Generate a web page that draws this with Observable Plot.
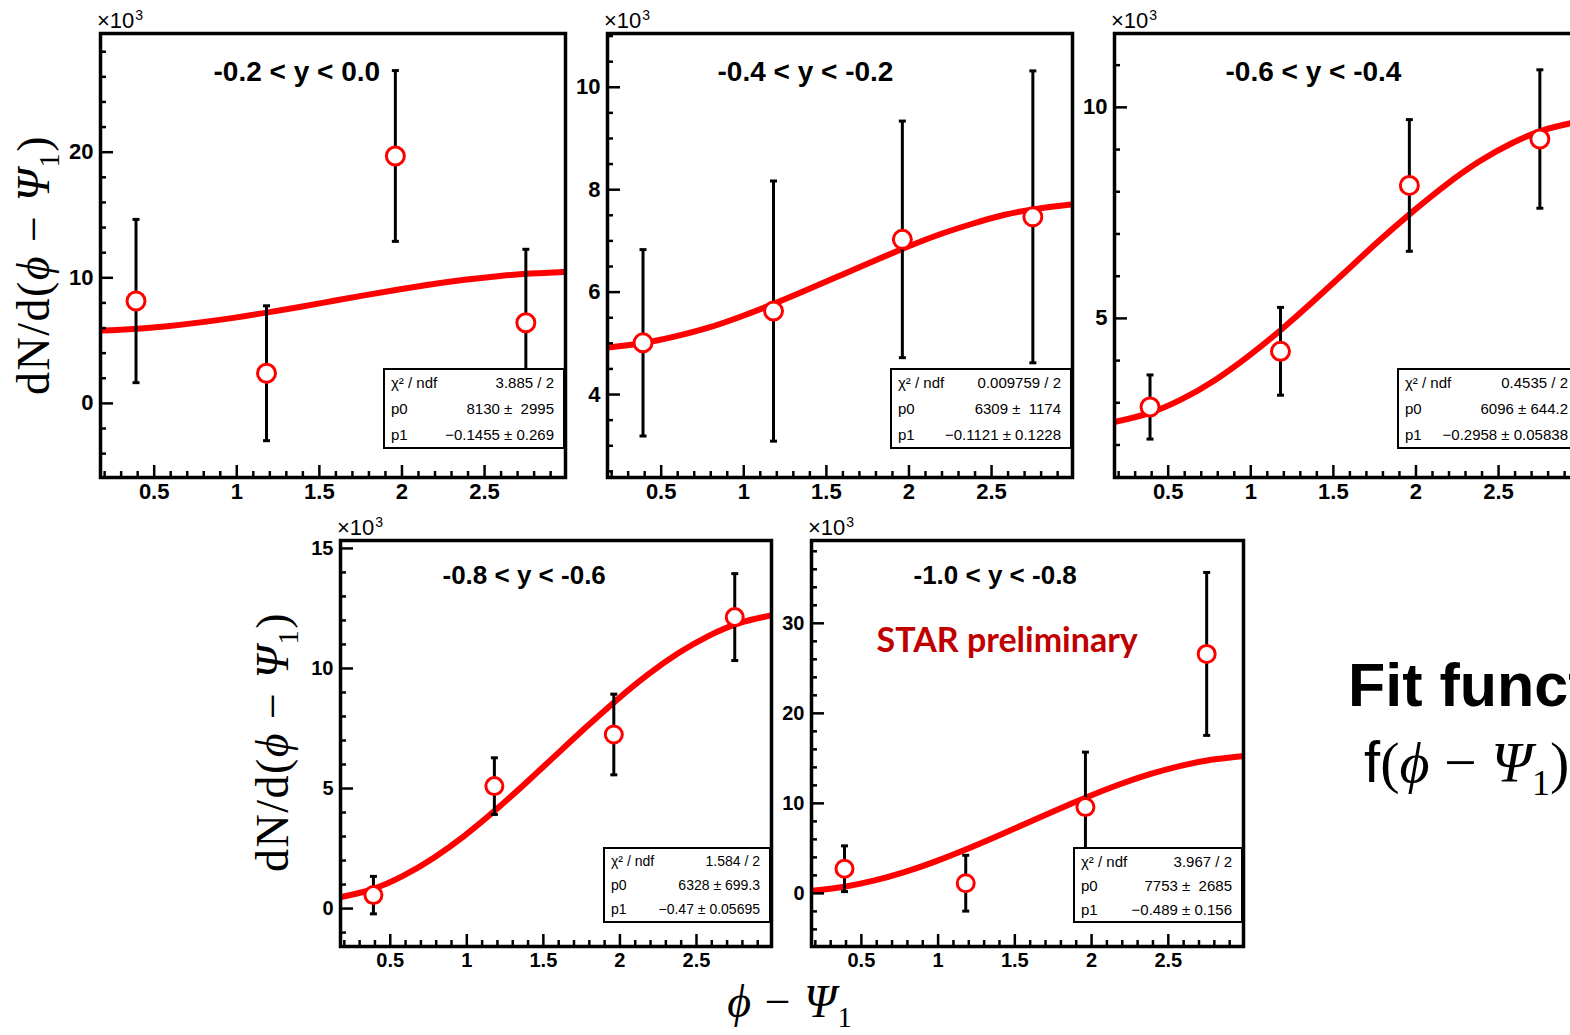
<!DOCTYPE html>
<html><head><meta charset="utf-8">
<script src="https://cdn.jsdelivr.net/npm/d3@7"></script>
<script src="https://cdn.jsdelivr.net/npm/@observablehq/plot@0.6"></script>
<style>
html,body{margin:0;padding:0;background:#fff;overflow:hidden;width:1570px;height:1035px;}
#stage{position:relative;width:1570px;height:1035px;overflow:hidden;background:#fff;}
#stage svg{position:absolute;max-width:none;background:transparent;}
.stats{position:absolute;background:#fff;border:2px solid #000;box-sizing:border-box;color:#000;display:flex;flex-direction:column;}
.stats .row{flex:1;display:flex;justify-content:space-between;align-items:center;padding:0 9px 0 6px;white-space:pre;}
.math{position:absolute;font-family:"Liberation Serif","DejaVu Serif",serif;white-space:nowrap;line-height:1;color:#000;}
.math i{font-style:italic;}
.math sub{font-size:0.62em;vertical-align:-0.35em;}
.ylab{transform:translate(-50%,-50%) rotate(-90deg);letter-spacing:1.5px;}
.xlab{transform:translate(-50%,-50%);letter-spacing:1px;}
.side{position:absolute;white-space:nowrap;line-height:1;color:#000;}
.mult{position:absolute;font-family:"Liberation Sans",Arial,sans-serif;font-size:22px;line-height:1;color:#000;white-space:nowrap;}
.mult sup{font-size:14px;vertical-align:0.6em;margin-left:1px;}
</style></head>
<body><div id="stage"></div>
<script>
// ---------- data ----------
const xDomain = [0.175, 2.99];
const xMajor = [0.5, 1, 1.5, 2, 2.5];
const binCenters = [0.39, 1.18, 1.96, 2.75];
const rapidityBins = ["-0.2 < y < 0.0", "-0.4 < y < -0.2", "-0.6 < y < -0.4", "-0.8 < y < -0.6", "-1.0 < y < -0.8"];

// dN/d(phi - Psi1) in units of 10^3
const yield1 = [8.15, 2.40, 19.70, 6.42];
const err1   = [6.50, 5.37, 6.80, 5.85];
const yield2 = [5.01, 5.63, 7.03, 7.47];
const err2   = [1.82, 2.54, 2.31, 2.85];
const yield3 = [2.90, 4.22, 8.15, 9.25];
const err3   = [0.76, 1.04, 1.56, 1.64];
const yield4 = [0.56, 5.10, 7.25, 12.14];
const err4   = [0.78, 1.18, 1.68, 1.81];
const yield5 = [2.74, 1.13, 9.59, 26.60];
const err5   = [2.54, 3.10, 6.10, 9.05];

// fitted curve
const fitX = [0.18, 0.38, 0.58, 0.78, 0.98, 1.18, 1.38, 1.58, 1.78, 1.98, 2.18, 2.38, 2.58, 2.78, 2.98];
const fit1 = [5.80, 5.93, 6.15, 6.45, 6.81, 7.23, 7.68, 8.15, 8.62, 9.07, 9.48, 9.84, 10.13, 10.34, 10.47];
const fit2 = [4.92, 5.00, 5.13, 5.30, 5.52, 5.77, 6.04, 6.32, 6.60, 6.87, 7.12, 7.33, 7.51, 7.63, 7.71];
const fit3 = [2.55, 2.75, 3.08, 3.53, 4.09, 4.72, 5.41, 6.13, 6.85, 7.53, 8.16, 8.71, 9.15, 9.47, 9.66];
const fit4 = [0.48, 0.80, 1.35, 2.10, 3.01, 4.06, 5.20, 6.38, 7.56, 8.69, 9.73, 10.63, 11.36, 11.89, 12.20];
const fit5 = [0.29, 0.71, 1.41, 2.36, 3.53, 4.87, 6.32, 7.82, 9.33, 10.77, 12.09, 13.24, 14.17, 14.84, 15.24];

const chi2Text = ["3.885 / 2", "0.009759 / 2", "0.4535 / 2", "1.584 / 2", "3.967 / 2"];
const p0Text = ["8130 \u00B1  2995", "6309 \u00B1  1174", "6096 \u00B1 644.2", "6328 \u00B1 699.3", "7753 \u00B1  2685"];
const p1Text = ["\u22120.1455 \u00B1 0.269", "\u22120.1121 \u00B1 0.1228", "\u22120.2958 \u00B1 0.05838", "\u22120.47 \u00B1 0.05695", "\u22120.489 \u00B1 0.156"];

const yDomains = [[-5.9, 29.45], [2.38, 11.05], [1.23, 11.75], [-1.58, 15.33], [-5.9, 39.2]];
const yMajors = [[0, 10, 20], [4, 6, 8, 10], [5, 10], [0, 5, 10, 15], [0, 10, 20, 30]];
const yMinorSteps = [2, 0.5, 1, 1, 2];

const yields = [yield1, yield2, yield3, yield4, yield5];
const errs = [err1, err2, err3, err4, err5];
const fits = [fit1, fit2, fit3, fit4, fit5];

// ---------- layout (pixels) ----------
const SANS = "Liberation Sans, Arial, sans-serif";
const layout = [
  {L: 100, T: 33, W: 465, H: 444, tick: 22, title: 28, titleDx: 113, titleDy: 39, stat: 15, r: 9, box: {l: 383, t: 368, r: 565, b: 449}},
  {L: 607, T: 33, W: 465, H: 444, tick: 22, title: 28, titleDx: 110, titleDy: 39, stat: 15, r: 9, box: {l: 890, t: 368, r: 1072, b: 449}},
  {L: 1114, T: 33, W: 465, H: 444, tick: 22, title: 28, titleDx: 111, titleDy: 39, stat: 15, r: 9, box: {l: 1397, t: 368, r: 1579, b: 449}},
  {L: 340, T: 540, W: 431, H: 406, tick: 20, title: 26, titleDx: 102, titleDy: 35, stat: 14, r: 8.5, box: {l: 603, t: 847, r: 771, b: 923}},
  {L: 811, T: 540, W: 432, H: 406, tick: 20, title: 26, titleDx: 102, titleDy: 35, stat: 15, r: 8.5, box: {l: 1073, t: 847, r: 1243, b: 923}}
];

const stage = document.getElementById("stage");
const capSymbol = {draw(ctx) { ctx.moveTo(-3.5, 0); ctx.lineTo(3.5, 0); }};
const xMinor = d3.range(2, 30).map(k => k / 10).filter(v => !xMajor.includes(v));

layout.forEach((lay, i) => {
  const ml = 62, mt = 32, mr = 12, mb = 44;
  const [y0, y1] = yDomains[i];
  const step = yMinorSteps[i];
  const yMinor = d3.range(Math.ceil(y0 / step), Math.floor(y1 / step) + 1)
    .map(k => +(k * step).toFixed(3))
    .filter(v => !yMajors[i].includes(v) && v > y0 && v < y1);
  const pts = binCenters.map((x, j) => ({x, y: yields[i][j], e: errs[i][j]}));
  const fit = fitX.map((x, j) => ({x, y: fits[i][j]}));
  const marks = [
    Plot.line(fit, {x: "x", y: "y", curve: "natural", stroke: "#ff0000", strokeWidth: 6, clip: true}),
    Plot.ruleX(pts, {x: "x", y1: d => d.y - d.e, y2: d => d.y + d.e, stroke: "#000", strokeWidth: 3}),
    Plot.dot(pts, {x: "x", y: d => d.y + d.e, symbol: capSymbol, stroke: "#000", strokeWidth: 3}),
    Plot.dot(pts, {x: "x", y: d => d.y - d.e, symbol: capSymbol, stroke: "#000", strokeWidth: 3}),
    Plot.dot(pts, {x: "x", y: "y", r: lay.r, stroke: "#ff0000", fill: "#fff", strokeWidth: 3}),
    Plot.tickX(xMinor, {x: d => d, insetTop: lay.H - 6, stroke: "#000", strokeWidth: 2.5}),
    Plot.tickX(xMajor, {x: d => d, insetTop: lay.H - 12, stroke: "#000", strokeWidth: 2.5}),
    Plot.tickY(yMinor, {y: d => d, insetRight: lay.W - 6, stroke: "#000", strokeWidth: 2.5}),
    Plot.tickY(yMajors[i], {y: d => d, insetRight: lay.W - 13, stroke: "#000", strokeWidth: 2.5}),
    Plot.axisX({ticks: xMajor, tickSize: 0, tickPadding: 6, tickFormat: d => String(d), label: null,
      fontSize: lay.tick, fontWeight: "bold", fontFamily: SANS}),
    Plot.axisY({ticks: yMajors[i], tickSize: 0, tickPadding: 7, tickFormat: d => String(d), label: null,
      fontSize: lay.tick, fontWeight: "bold", fontFamily: SANS}),
    Plot.frame({stroke: "#000", strokeWidth: 3.5}),
    Plot.text([rapidityBins[i]], {frameAnchor: "top-left", dx: lay.titleDx, dy: lay.titleDy, textAnchor: "start",
      lineAnchor: "middle", fontSize: lay.title, fontWeight: "bold", fontFamily: SANS, fill: "#000"})
  ];
  if (i === 4) {
    marks.push(Plot.text(["STAR preliminary"], {frameAnchor: "top-left", dx: 65, dy: 101, textAnchor: "start",
      lineAnchor: "middle", fontSize: 34, fontWeight: "bold", fontFamily: "Lato, Open Sans, sans-serif", fill: "#c00000"}));
  }
  const svg = Plot.plot({
    width: ml + lay.W + mr, height: mt + lay.H + mb,
    marginLeft: ml, marginTop: mt, marginRight: mr, marginBottom: mb,
    x: {domain: xDomain}, y: {domain: yDomains[i]},
    style: {background: "transparent", overflow: "visible", color: "#000"},
    marks
  });
  svg.style.left = (lay.L - ml) + "px";
  svg.style.top = (lay.T - mt) + "px";
  stage.appendChild(svg);

  // ×10^3 multiplier above the frame
  const mult = document.createElement("div");
  mult.className = "mult";
  mult.innerHTML = "\u00D710<sup>3</sup>";
  Object.assign(mult.style, {left: (lay.L - 3) + "px", top: (lay.T - 25) + "px"});
  stage.appendChild(mult);

  const b = lay.box;
  const box = document.createElement("div");
  box.className = "stats";
  Object.assign(box.style, {left: b.l + "px", top: b.t + "px", width: (b.r - b.l) + "px", height: (b.b - b.t) + "px",
    fontFamily: SANS, fontSize: lay.stat + "px"});
  const rows = [["\u03C7\u00B2 / ndf", chi2Text[i]], ["p0", p0Text[i]], ["p1", p1Text[i]]];
  rows.forEach(([k, v]) => {
    const r = document.createElement("div");
    r.className = "row";
    r.innerHTML = `<span>${k}</span><span>${v}</span>`;
    box.appendChild(r);
  });
  stage.appendChild(box);
});

// axis titles and side text
const yTitle = 'dN/d(<i>\u03D5</i> \u2212 <i>\u03A8</i><sub>1</sub>)';
function addMath(html, cls, x, y, size) {
  const d = document.createElement("div");
  d.className = "math " + cls;
  d.innerHTML = html;
  Object.assign(d.style, {left: x + "px", top: y + "px", fontSize: size + "px"});
  stage.appendChild(d);
}
addMath(yTitle, "ylab", 38, 265, 46);
addMath(yTitle, "ylab", 277, 742, 46);
addMath('<i>\u03D5</i> \u2212 <i>\u03A8</i><sub>1</sub>', "xlab", 790, 1006, 46);

const fitTitle = document.createElement("div");
fitTitle.className = "side";
fitTitle.textContent = "Fit function:";
Object.assign(fitTitle.style, {left: "1348px", top: "655px", fontFamily: SANS, fontWeight: "bold", fontSize: "61px"});
stage.appendChild(fitTitle);

const fitFormula = document.createElement("div");
fitFormula.className = "side";
fitFormula.innerHTML = '<span style="font-family:Liberation Sans,sans-serif">f</span><span style="font-family:Liberation Serif,serif">(<i>\u03D5</i> \u2212 <i>\u03A8</i><sub style="font-size:0.62em;vertical-align:-0.35em">1</sub>) = p0[1 + 2p1 cos(<i>\u03D5</i> \u2212 <i>\u03A8</i><sub>1</sub>)]</span>';
Object.assign(fitFormula.style, {left: "1364px", top: "733px", fontSize: "58px"});
stage.appendChild(fitFormula);
</script>
</body></html>
